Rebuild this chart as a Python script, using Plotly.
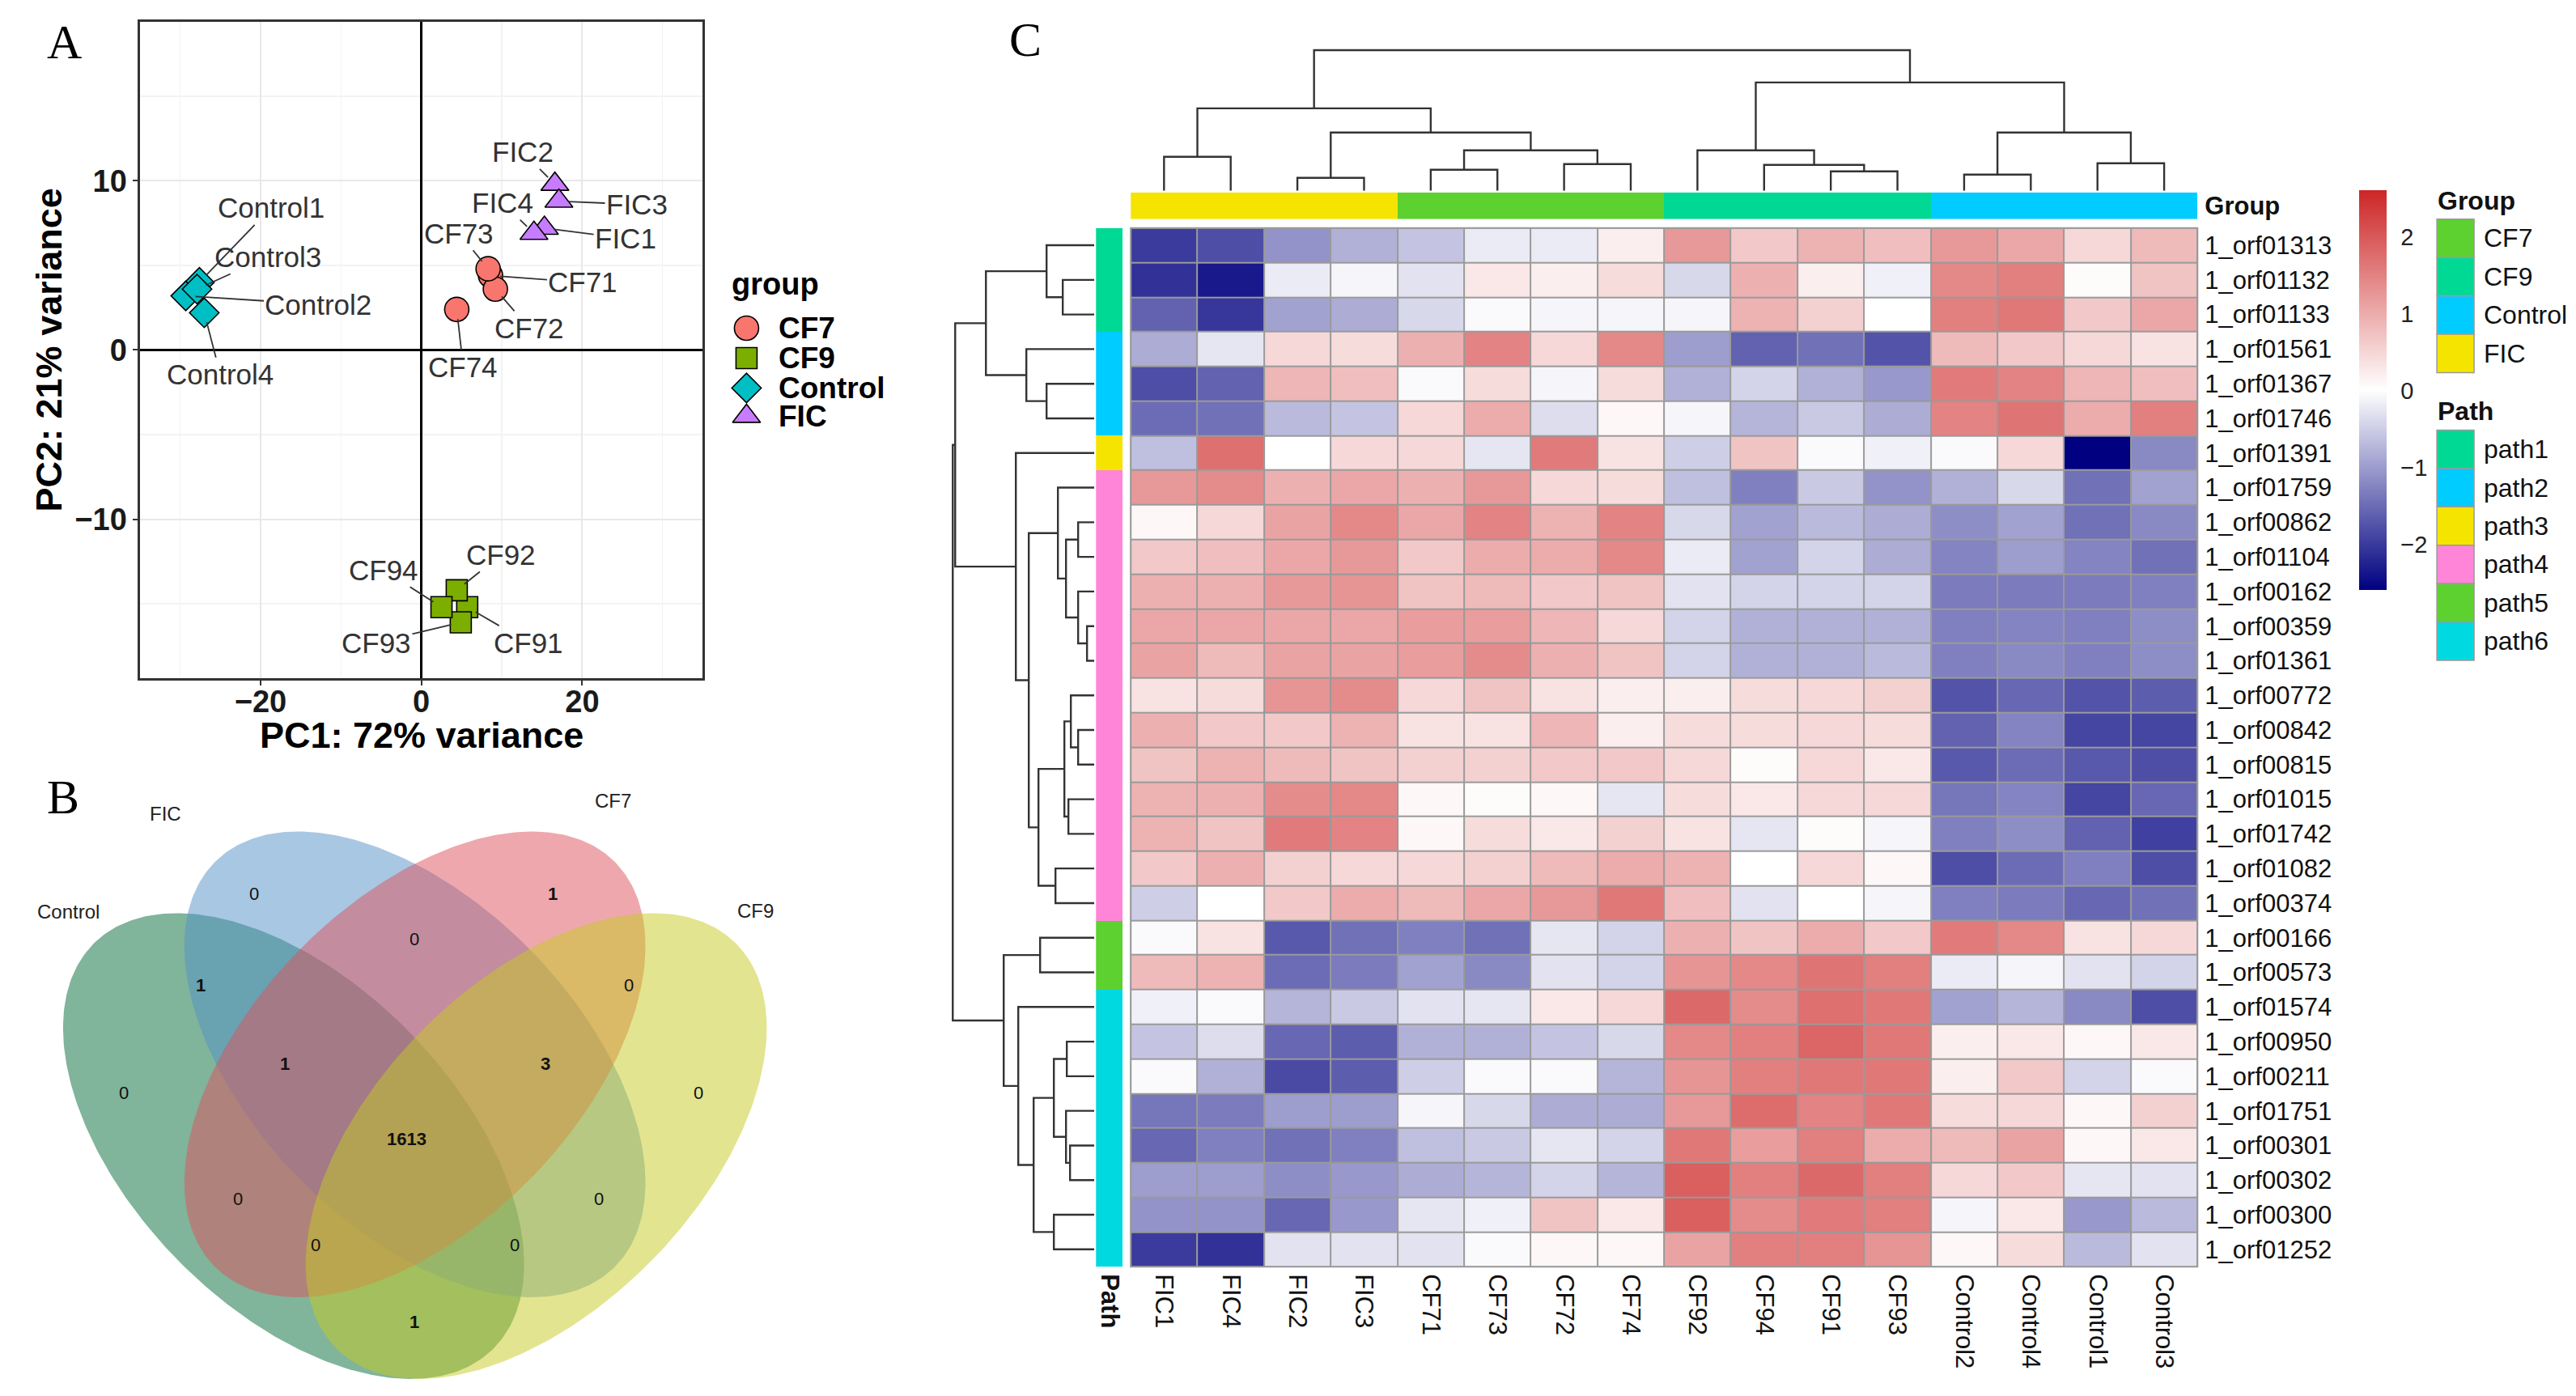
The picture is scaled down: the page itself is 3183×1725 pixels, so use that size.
import numpy as np
import plotly.graph_objects as go

W, H = 3183, 1725
SANS = "Liberation Sans"
SERIF = "Liberation Serif"


def fx(p):
    return p / W


def fy(p):
    return 1 - p / H


# ---------------- Panel A : PCA data ----------------
pca_samples = ["CF71", "CF72", "CF73", "CF74",
               "CF91", "CF92", "CF93", "CF94",
               "Control1", "Control2", "Control3", "Control4",
               "FIC1", "FIC2", "FIC3", "FIC4"]
pca_group = ["CF7"] * 4 + ["CF9"] * 4 + ["Control"] * 4 + ["FIC"] * 4
pc1 = [8.6, 9.2, 8.3, 4.4, 5.7, 4.4, 4.9, 2.5,
       -27.6, -29.3, -27.9, -27.0, 15.3, 16.6, 17.1, 14.0]
pc2 = [4.4, 3.6, 4.8, 2.4, -15.2, -14.2, -16.1, -15.2,
       4.0, 3.2, 3.6, 2.2, 7.2, 9.8, 8.8, 6.9]
pc1_var = 72
pc2_var = 21
group_levels = ["CF7", "CF9", "Control", "FIC"]

# ---------------- Panel B : Venn data ----------------
venn_sets = ["Control", "FIC", "CF7", "CF9"]
venn_regions = ["FIC", "CF7", "FIC&CF7", "Control&FIC", "CF7&CF9", "Control", "CF9",
                "Control&FIC&CF7", "FIC&CF7&CF9", "Control&FIC&CF7&CF9",
                "Control&CF7", "FIC&CF9", "Control&CF7&CF9", "Control&FIC&CF9", "Control&CF9"]
venn_counts = [0, 1, 0, 1, 0, 0, 0, 1, 3, 1613, 0, 0, 0, 0, 1]

# ---------------- Panel C : heatmap data ----------------
hm_cols = ["FIC1", "FIC4", "FIC2", "FIC3", "CF71", "CF73", "CF72", "CF74",
           "CF92", "CF94", "CF91", "CF93", "Control2", "Control4", "Control1", "Control3"]
hm_col_group = ["FIC"] * 4 + ["CF7"] * 4 + ["CF9"] * 4 + ["Control"] * 4
hm_rows = ["1_orf01313", "1_orf01132", "1_orf01133", "1_orf01561", "1_orf01367",
           "1_orf01746", "1_orf01391", "1_orf01759", "1_orf00862", "1_orf01104",
           "1_orf00162", "1_orf00359", "1_orf01361", "1_orf00772", "1_orf00842",
           "1_orf00815", "1_orf01015", "1_orf01742", "1_orf01082", "1_orf00374",
           "1_orf00166", "1_orf00573", "1_orf01574", "1_orf00950", "1_orf00211",
           "1_orf01751", "1_orf00301", "1_orf00302", "1_orf00300", "1_orf01252"]
hm_row_path = (["path1"] * 3 + ["path2"] * 3 + ["path3"] + ["path4"] * 13
               + ["path5"] * 2 + ["path6"] * 8)
hm_values = [
    [-2.0, -1.8, -1.1, -0.8, -0.6, -0.2, -0.2, 0.2, 1.23, 0.66, 0.92, 0.78, 1.23, 1.05, 0.47, 0.83],
    [-2.1, -2.35, -0.2, -0.1, -0.3, 0.28, 0.2, 0.42, -0.4, 0.95, 0.2, -0.15, 1.43, 1.53, 0.05, 0.71],
    [-1.6, -2.05, -0.95, -0.85, -0.4, -0.05, -0.1, -0.1, -0.1, 0.92, 0.55, 0.0, 1.53, 1.62, 0.66, 1.05],
    [-0.85, -0.25, 0.47, 0.42, 0.95, 1.48, 0.47, 1.43, -1.0, -1.6, -1.45, -1.75, 0.83, 0.66, 0.47, 0.35],
    [-1.8, -1.6, 0.88, 0.78, -0.05, 0.42, -0.1, 0.42, -0.8, -0.45, -0.8, -1.05, 1.58, 1.48, 0.88, 0.78],
    [-1.5, -1.45, -0.7, -0.6, 0.47, 1.0, -0.35, 0.1, -0.1, -0.75, -0.55, -0.85, 1.48, 1.66, 1.0, 1.53],
    [-0.65, 1.71, 0.0, 0.47, 0.47, -0.25, 1.58, 0.35, -0.5, 0.71, -0.05, -0.15, -0.05, 0.47, -2.6, -1.2],
    [1.23, 1.38, 0.95, 1.05, 0.95, 1.23, 0.47, 0.42, -0.65, -1.3, -0.55, -1.1, -0.8, -0.4, -1.45, -0.95],
    [0.1, 0.47, 1.1, 1.43, 1.05, 1.48, 0.92, 1.48, -0.4, -0.95, -0.7, -0.85, -1.15, -0.95, -1.45, -1.2],
    [0.66, 0.78, 1.05, 1.23, 0.66, 1.0, 1.0, 1.43, -0.2, -0.95, -0.45, -0.85, -1.25, -1.0, -1.25, -1.45],
    [0.95, 0.95, 1.23, 1.28, 0.71, 0.83, 0.66, 0.71, -0.3, -0.45, -0.45, -0.45, -1.35, -1.35, -1.35, -1.3],
    [1.05, 1.05, 1.05, 1.05, 1.17, 1.17, 0.88, 0.47, -0.45, -0.8, -0.8, -0.8, -1.3, -1.25, -1.3, -1.15],
    [1.1, 0.83, 1.1, 1.1, 1.17, 1.38, 0.95, 0.71, -0.45, -0.8, -0.8, -0.7, -1.3, -1.2, -1.3, -1.15],
    [0.35, 0.42, 1.28, 1.38, 0.47, 0.71, 0.35, 0.2, 0.2, 0.42, 0.47, 0.55, -1.75, -1.55, -1.75, -1.65],
    [0.95, 0.66, 0.66, 0.92, 0.35, 0.35, 0.88, 0.2, 0.42, 0.42, 0.47, 0.42, -1.6, -1.25, -1.9, -1.9],
    [0.71, 0.92, 0.83, 0.71, 0.55, 0.55, 0.66, 0.66, 0.47, 0.05, 0.47, 0.28, -1.7, -1.5, -1.7, -1.8],
    [0.92, 0.95, 1.38, 1.43, 0.1, 0.05, 0.1, -0.25, 0.42, 0.28, 0.47, 0.47, -1.4, -1.25, -1.9, -1.55],
    [0.92, 0.71, 1.58, 1.48, 0.1, 0.42, 0.28, 0.55, 0.35, -0.25, 0.05, -0.1, -1.3, -1.15, -1.6, -1.95],
    [0.66, 0.95, 0.55, 0.47, 0.47, 0.55, 0.83, 1.0, 0.92, 0.0, 0.47, 0.1, -1.8, -1.5, -1.3, -1.8],
    [-0.5, 0.0, 0.66, 1.0, 0.83, 1.05, 1.23, 1.62, 0.78, -0.3, 0.0, -0.1, -1.3, -1.35, -1.55, -1.45],
    [-0.05, 0.35, -1.7, -1.45, -1.3, -1.45, -0.25, -0.45, 0.95, 0.71, 1.0, 0.66, 1.58, 1.43, 0.35, 0.47],
    [0.83, 0.92, -1.5, -1.35, -0.95, -1.2, -0.3, -0.45, 1.28, 1.43, 1.66, 1.53, -0.2, -0.1, -0.3, -0.45],
    [-0.15, -0.05, -0.75, -0.55, -0.3, -0.25, 0.28, 0.47, 1.8, 1.38, 1.71, 1.62, -0.95, -0.75, -1.2, -1.8],
    [-0.6, -0.35, -1.55, -1.65, -0.8, -0.8, -0.6, -0.4, 1.43, 1.53, 1.84, 1.62, 0.2, 0.28, 0.1, 0.28],
    [-0.05, -0.8, -1.85, -1.65, -0.5, -0.05, -0.05, -0.75, 1.28, 1.53, 1.62, 1.62, 0.2, 0.66, -0.45, -0.05],
    [-1.4, -1.35, -1.0, -1.0, -0.1, -0.4, -0.85, -0.85, 1.23, 1.75, 1.48, 1.62, 0.42, 0.47, 0.1, 0.55],
    [-1.55, -1.3, -1.45, -1.3, -0.65, -0.55, -0.25, -0.45, 1.62, 1.17, 1.53, 1.0, 0.83, 1.1, 0.1, 0.28],
    [-1.0, -1.0, -1.15, -1.05, -0.85, -0.75, -0.45, -0.75, 1.92, 1.53, 1.8, 1.53, 0.47, 0.66, -0.25, -0.3],
    [-1.1, -1.1, -1.55, -1.05, -0.25, -0.15, 0.71, 0.28, 1.92, 1.38, 1.58, 1.53, -0.1, 0.28, -1.05, -0.7],
    [-2.0, -2.1, -0.3, -0.3, -0.3, -0.05, 0.1, 0.1, 1.1, 1.53, 1.53, 1.28, 0.1, 0.42, -0.7, -0.3],
]
hm_zlim = 2.6
# hierarchical clustering merges: (child_a, child_b, height); leaves are 0..n-1 in display order
col_merges = [(2, 3, 1.6), (12, 13, 2.0), (10, 11, 2.4), (4, 5, 2.6), (9, 18, 3.2),
              (6, 7, 3.3), (14, 15, 3.4), (0, 1, 4.2), (19, 21, 5.0), (8, 20, 5.0),
              (16, 24, 7.2), (17, 22, 7.2), (23, 26, 10.2), (25, 27, 13.4), (28, 29, 17.4)]
row_merges = [(1, 2, 3.9), (0, 30, 5.9), (4, 5, 5.9), (3, 32, 8.4), (31, 33, 13.4),
              (8, 9, 2.0), (11, 12, 0.9), (10, 36, 2.0), (35, 37, 3.5), (7, 38, 4.5),
              (14, 15, 2.0), (13, 40, 2.9), (16, 17, 3.2), (41, 42, 3.7), (18, 19, 4.8),
              (43, 44, 6.9), (39, 45, 8.1), (6, 46, 9.7), (34, 47, 17.2),
              (20, 21, 6.7), (23, 24, 3.4), (26, 27, 3.0), (25, 51, 3.5), (50, 52, 5.0),
              (28, 29, 5.0), (53, 54, 7.5), (22, 55, 9.4), (49, 56, 11.2), (48, 57, 17.5)]

# ---------------- styles / layout constants ----------------
PCA_STYLE = {"CF7": ("#F8766D", "circle", 30), "CF9": ("#7CAE00", "square", 26),
             "Control": ("#00BFC4", "diamond", 28), "FIC": ("#C77CFF", "triangle-up", 30)}
PCA_LABEL_POS = {
    "CF71": (20.1, 4.0), "CF72": (13.4, 1.3), "CF73": (4.7, 6.9), "CF74": (5.2, -1.0),
    "CF91": (13.3, -17.3), "CF92": (9.9, -12.1), "CF93": (-5.6, -17.3), "CF94": (-4.7, -13.0),
    "Control1": (-18.7, 8.4), "Control2": (-12.8, 2.7), "Control3": (-19.1, 5.5),
    "Control4": (-25.0, -1.45),
    "FIC1": (25.4, 6.6), "FIC2": (12.6, 11.7), "FIC3": (26.8, 8.6), "FIC4": (10.1, 8.7),
}
VENN_GEOM = {"Control": (0.35, 0.47, -45), "FIC": (0.50, 0.57, -45),
             "CF7": (0.50, 0.57, 45), "CF9": (0.65, 0.47, 45)}
VENN_A, VENN_B = 0.35, 0.20
VENN_FILL = {"Control": "rgba(2,106,56,0.5)", "FIC": "rgba(81,143,199,0.5)",
             "CF7": "rgba(221,81,91,0.5)", "CF9": "rgba(197,201,33,0.5)"}
VENN_SET_LABEL_POS = {"Control": (0.072, 0.757), "FIC": (0.192, 0.877),
                      "CF7": (0.745, 0.893), "CF9": (0.921, 0.758)}
VENN_REGION_POS = [(0.301, 0.779), (0.670, 0.779), (0.499, 0.723), (0.235, 0.667),
                   (0.764, 0.667), (0.140, 0.535), (0.851, 0.535), (0.339, 0.571),
                   (0.661, 0.571), (0.490, 0.479), (0.281, 0.405), (0.727, 0.405),
                   (0.377, 0.349), (0.623, 0.349), (0.499, 0.255)]
GROUP_COLORS = {"CF7": "#5CD12F", "CF9": "#00D994", "Control": "#00CCFF", "FIC": "#F5E400"}
PATH_COLORS = {"path1": "#00D994", "path2": "#00CCFF", "path3": "#F5E400",
               "path4": "#FF85D8", "path5": "#5CD12F", "path6": "#00D9E0"}

fig = go.Figure()
annotations = []
shapes = []


def paper_text(px, py, text, size, color="black", family=SANS, xanchor="center", angle=0):
    annotations.append(dict(x=fx(px), y=fy(py), xref="paper", yref="paper", text=text,
                            showarrow=False, xanchor=xanchor, yanchor="middle",
                            textangle=angle,
                            font=dict(family=family, size=size, color=color)))


# ================= Panel A =================
for g in group_levels:
    idx = [i for i, gg in enumerate(pca_group) if gg == g]
    col, sym, sz = PCA_STYLE[g]
    fig.add_trace(go.Scatter(
        x=[pc1[i] for i in idx], y=[pc2[i] for i in idx], mode="markers",
        marker=dict(color=col, symbol=sym, size=sz, line=dict(color="black", width=1.6)),
        xaxis="x", yaxis="y", hoverinfo="skip", showlegend=False))

for i, s in enumerate(pca_samples):
    lx, ly = PCA_LABEL_POS[s]
    annotations.append(dict(
        x=pc1[i], y=pc2[i], xref="x", yref="y", ax=lx, ay=ly, axref="x", ayref="y",
        text=s, showarrow=True, arrowhead=0, arrowwidth=1.8, arrowcolor="#333333",
        standoff=12, xanchor="center", yanchor="middle",
        font=dict(family=SANS, size=35, color="#333333")))

paper_text(520, 909, "<b>PC1: %d%% variance</b>" % pc1_var, 45)
paper_text(60, 432, "<b>PC2: %d%% variance</b>" % pc2_var, 45, angle=-90)

# legend for panel A (own pixel-space axis)
leg_y = [405, 442, 479, 514]
for g, yy in zip(group_levels, leg_y):
    col, sym, sz = PCA_STYLE[g]
    fig.add_trace(go.Scatter(
        x=[922], y=[yy], mode="markers",
        marker=dict(color=col, symbol=sym, size=sz, line=dict(color="black", width=1.6)),
        xaxis="x8", yaxis="y8", hoverinfo="skip", showlegend=False))
    paper_text(960, yy, "<b>%s</b>" % g, 37, xanchor="left")
paper_text(902, 350, "<b>group</b>", 38, xanchor="left")

# ================= Panel B : Venn =================
t = np.linspace(0, 2 * np.pi, 361)
for s in venn_sets:
    cx, cy, ang = VENN_GEOM[s]
    th = np.deg2rad(ang)
    ex = cx + VENN_A * np.cos(t) * np.cos(th) - VENN_B * np.sin(t) * np.sin(th)
    ey = cy + VENN_A * np.cos(t) * np.sin(th) + VENN_B * np.sin(t) * np.cos(th)
    fig.add_trace(go.Scatter(x=ex, y=ey, mode="lines", fill="toself",
                             fillcolor=VENN_FILL[s], line=dict(width=0, color="rgba(0,0,0,0)"),
                             xaxis="x2", yaxis="y2", hoverinfo="skip", showlegend=False))
for s in venn_sets:
    lx, ly = VENN_SET_LABEL_POS[s]
    annotations.append(dict(x=lx, y=ly, xref="x2", yref="y2", text=s, showarrow=False,
                            xanchor="center", yanchor="middle",
                            font=dict(family=SANS, size=24, color="#222222")))
for (rx, ry), c in zip(VENN_REGION_POS, venn_counts):
    txt = "<b>%d</b>" % c if c > 0 else "%d" % c
    annotations.append(dict(x=rx, y=ry, xref="x2", yref="y2", text=txt, showarrow=False,
                            xanchor="center", yanchor="middle",
                            font=dict(family=SANS, size=22, color="#111111")))

# ================= Panel C : heatmap =================
ncol, nrow = len(hm_cols), len(hm_rows)
fig.add_trace(go.Heatmap(
    z=hm_values, x=list(range(ncol)), y=list(range(nrow)),
    colorscale=[[0, "#000080"], [0.5, "#FFFFFF"], [1, "#CD2626"]],
    zmin=-hm_zlim, zmax=hm_zlim, xgap=2, ygap=2, xaxis="x3", yaxis="y3",
    hoverinfo="skip",
    colorbar=dict(x=fx(2916), xanchor="left", y=fy(482), yanchor="middle",
                  lenmode="pixels", len=494, thicknessmode="pixels", thickness=34,
                  xpad=0, ypad=0, outlinewidth=0, tickvals=[-2, -1, 0, 1, 2],
                  ticks="outside", ticklen=12, tickcolor="rgba(0,0,0,0)",
                  tickfont=dict(family=SANS, size=29, color="#222222"))))


def discrete_scale(colors):
    n = len(colors)
    cs = []
    for i, c in enumerate(colors):
        cs.append([i / n, c])
        cs.append([(i + 1) / n, c])
    return cs


grp_order = list(GROUP_COLORS.keys())
fig.add_trace(go.Heatmap(
    z=[[grp_order.index(g) for g in hm_col_group]], x=list(range(ncol)), y=[0],
    colorscale=discrete_scale([GROUP_COLORS[g] for g in grp_order]),
    zmin=-0.5, zmax=len(grp_order) - 0.5, showscale=False, xaxis="x6", yaxis="y6",
    hoverinfo="skip"))
path_order = list(PATH_COLORS.keys())
fig.add_trace(go.Heatmap(
    z=[[path_order.index(p)] for p in hm_row_path], x=[0], y=list(range(nrow)),
    colorscale=discrete_scale([PATH_COLORS[p] for p in path_order]),
    zmin=-0.5, zmax=len(path_order) - 0.5, showscale=False, xaxis="x7", yaxis="y7",
    hoverinfo="skip"))


def dendro(n, merges):
    pos = {i: float(i) for i in range(n)}
    hgt = {i: 0.0 for i in range(n)}
    P, Hh = [], []
    for k, (a, b, h) in enumerate(merges):
        P += [pos[a], pos[a], pos[b], pos[b], None]
        Hh += [hgt[a], h, h, hgt[b], None]
        pos[n + k] = (pos[a] + pos[b]) / 2
        hgt[n + k] = h
    return P, Hh


cp, ch = dendro(ncol, col_merges)
fig.add_trace(go.Scatter(x=cp, y=ch, mode="lines", line=dict(color="#333333", width=2.4),
                         xaxis="x4", yaxis="y4", hoverinfo="skip", showlegend=False))
rp, rh = dendro(nrow, row_merges)
fig.add_trace(go.Scatter(x=rh, y=rp, mode="lines", line=dict(color="#333333", width=2.4),
                         xaxis="x5", yaxis="y5", hoverinfo="skip", showlegend=False))

# heatmap cell border backdrop and outline
shapes.append(dict(type="rect", xref="x3 domain", yref="y3 domain", x0=0, x1=1, y0=0, y1=1,
                   fillcolor="#9a9a9a", line=dict(width=0), layer="below"))
shapes.append(dict(type="rect", xref="x3 domain", yref="y3 domain", x0=0, x1=1, y0=0, y1=1,
                   line=dict(color="#9a9a9a", width=2), layer="above"))


# annotation legends (Group / Path)
def legend_block(title, title_y, items, colors, top):
    paper_text(3011, title_y, "<b>%s</b>" % title, 32, color="#111111", xanchor="left")
    bh = 47.5
    for k, it in enumerate(items):
        y0 = top + k * bh
        shapes.append(dict(type="rect", xref="paper", yref="paper",
                           x0=fx(3012), x1=fx(3058), y0=fy(y0 + bh), y1=fy(y0),
                           fillcolor=colors[it], line=dict(color="#9a9a9a", width=1.5)))
        paper_text(3068, y0 + bh / 2, it, 32, color="#111111", xanchor="left")


legend_block("Group", 247, grp_order, GROUP_COLORS, 270)
legend_block("Path", 508, path_order, PATH_COLORS, 531)

# panel letters
for letter, (px, py) in {"A": (79, 51), "B": (77, 985), "C": (1267, 48)}.items():
    paper_text(px, py, letter, 60, family=SERIF)

hidden = dict(visible=False, fixedrange=True)

layout = dict(
    width=W, height=H, margin=dict(l=0, r=0, t=0, b=0),
    paper_bgcolor="white", plot_bgcolor="white", showlegend=False,
    font=dict(family=SANS),
    xaxis=dict(domain=[fx(172), fx(868)], range=[-35, 35], tickmode="linear", tick0=0,
               dtick=20, showgrid=True, gridcolor="#e8e8e8", gridwidth=2,
               minor=dict(dtick=10, tick0=0, showgrid=True, gridcolor="#f3f3f3", gridwidth=1.2),
               zeroline=True, zerolinecolor="black", zerolinewidth=2.5,
               showline=True, linecolor="#333333", linewidth=2.5, mirror=True,
               ticks="outside", ticklen=6, tickwidth=2, tickcolor="#333333",
               ticklabelstandoff=-12,
               tickfont=dict(family=SANS, size=38, color="#1a1a1a", weight="bold"),
               anchor="y", fixedrange=True),
    yaxis=dict(domain=[fy(838), fy(26)], range=[-19.4, 19.4], tickmode="linear", tick0=0,
               dtick=10, showgrid=True, gridcolor="#e8e8e8", gridwidth=2,
               minor=dict(dtick=5, tick0=0, showgrid=True, gridcolor="#f3f3f3", gridwidth=1.2),
               zeroline=True, zerolinecolor="black", zerolinewidth=2.5,
               showline=True, linecolor="#333333", linewidth=2.5, mirror=True,
               ticks="outside", ticklen=6, tickwidth=2, tickcolor="#333333",
               tickfont=dict(family=SANS, size=38, color="#1a1a1a", weight="bold"),
               anchor="x", fixedrange=True),
    xaxis2=dict(domain=[fx(12), fx(1012)], range=[0, 1], anchor="y2", **hidden),
    yaxis2=dict(domain=[fy(1720), fy(962)], range=[0.17, 0.92], anchor="x2", **hidden),
    xaxis3=dict(domain=[fx(1397), fx(2716)], range=[-0.5, ncol - 0.5], anchor="y3",
                tickmode="array", tickvals=list(range(ncol)), ticktext=hm_cols,
                tickangle=90, ticks="", showgrid=False, zeroline=False, showline=False,
                ticklabelstandoff=8, tickfont=dict(family=SANS, size=31, color="#111111"),
                fixedrange=True),
    yaxis3=dict(domain=[fy(1566), fy(281)], range=[nrow - 0.5, -0.5], anchor="x3",
                side="right", tickmode="array", tickvals=list(range(nrow)), ticktext=hm_rows,
                ticks="", showgrid=False, zeroline=False, showline=False,
                ticklabelstandoff=8, tickfont=dict(family=SANS, size=31, color="#111111"),
                fixedrange=True),
    xaxis4=dict(domain=[fx(1397), fx(2716)], range=[-0.5, ncol - 0.5], anchor="y4", **hidden),
    yaxis4=dict(domain=[fy(235), fy(57)], range=[0, 17.8], anchor="x4", **hidden),
    xaxis5=dict(domain=[fx(1172), fx(1352)], range=[18.0, 0], anchor="y5", **hidden),
    yaxis5=dict(domain=[fy(1566), fy(281)], range=[nrow - 0.5, -0.5], anchor="x5", **hidden),
    xaxis6=dict(domain=[fx(1397), fx(2716)], range=[-0.5, ncol - 0.5], anchor="y6",
                showticklabels=False, ticks="", showgrid=False, zeroline=False, fixedrange=True),
    yaxis6=dict(domain=[fy(270), fy(237)], range=[-0.5, 0.5], anchor="x6", side="right",
                tickmode="array", tickvals=[0], ticktext=["<b>Group</b>"], ticks="",
                showgrid=False, zeroline=False, ticklabelstandoff=8,
                tickfont=dict(family=SANS, size=31, color="#111111"), fixedrange=True),
    xaxis7=dict(domain=[fx(1354), fx(1387)], range=[-0.5, 0.5], anchor="y7",
                tickmode="array", tickvals=[0], ticktext=["<b>Path</b>"], tickangle=90,
                ticks="", showgrid=False, zeroline=False, ticklabelstandoff=8,
                tickfont=dict(family=SANS, size=31, color="#111111"), fixedrange=True),
    yaxis7=dict(domain=[fy(1566), fy(281)], range=[nrow - 0.5, -0.5], anchor="x7",
                showticklabels=False, ticks="", showgrid=False, zeroline=False, fixedrange=True),
    xaxis8=dict(domain=[fx(900), fx(1140)], range=[900, 1140], anchor="y8", **hidden),
    yaxis8=dict(domain=[fy(540), fy(330)], range=[540, 330], anchor="x8", **hidden),
    annotations=annotations, shapes=shapes,
)
fig.update_layout(**layout)

fig.write_html("out.html", config={"displayModeBar": False, "staticPlot": True},
               post_script="document.body.style.margin='0';document.body.style.overflow='hidden';")
